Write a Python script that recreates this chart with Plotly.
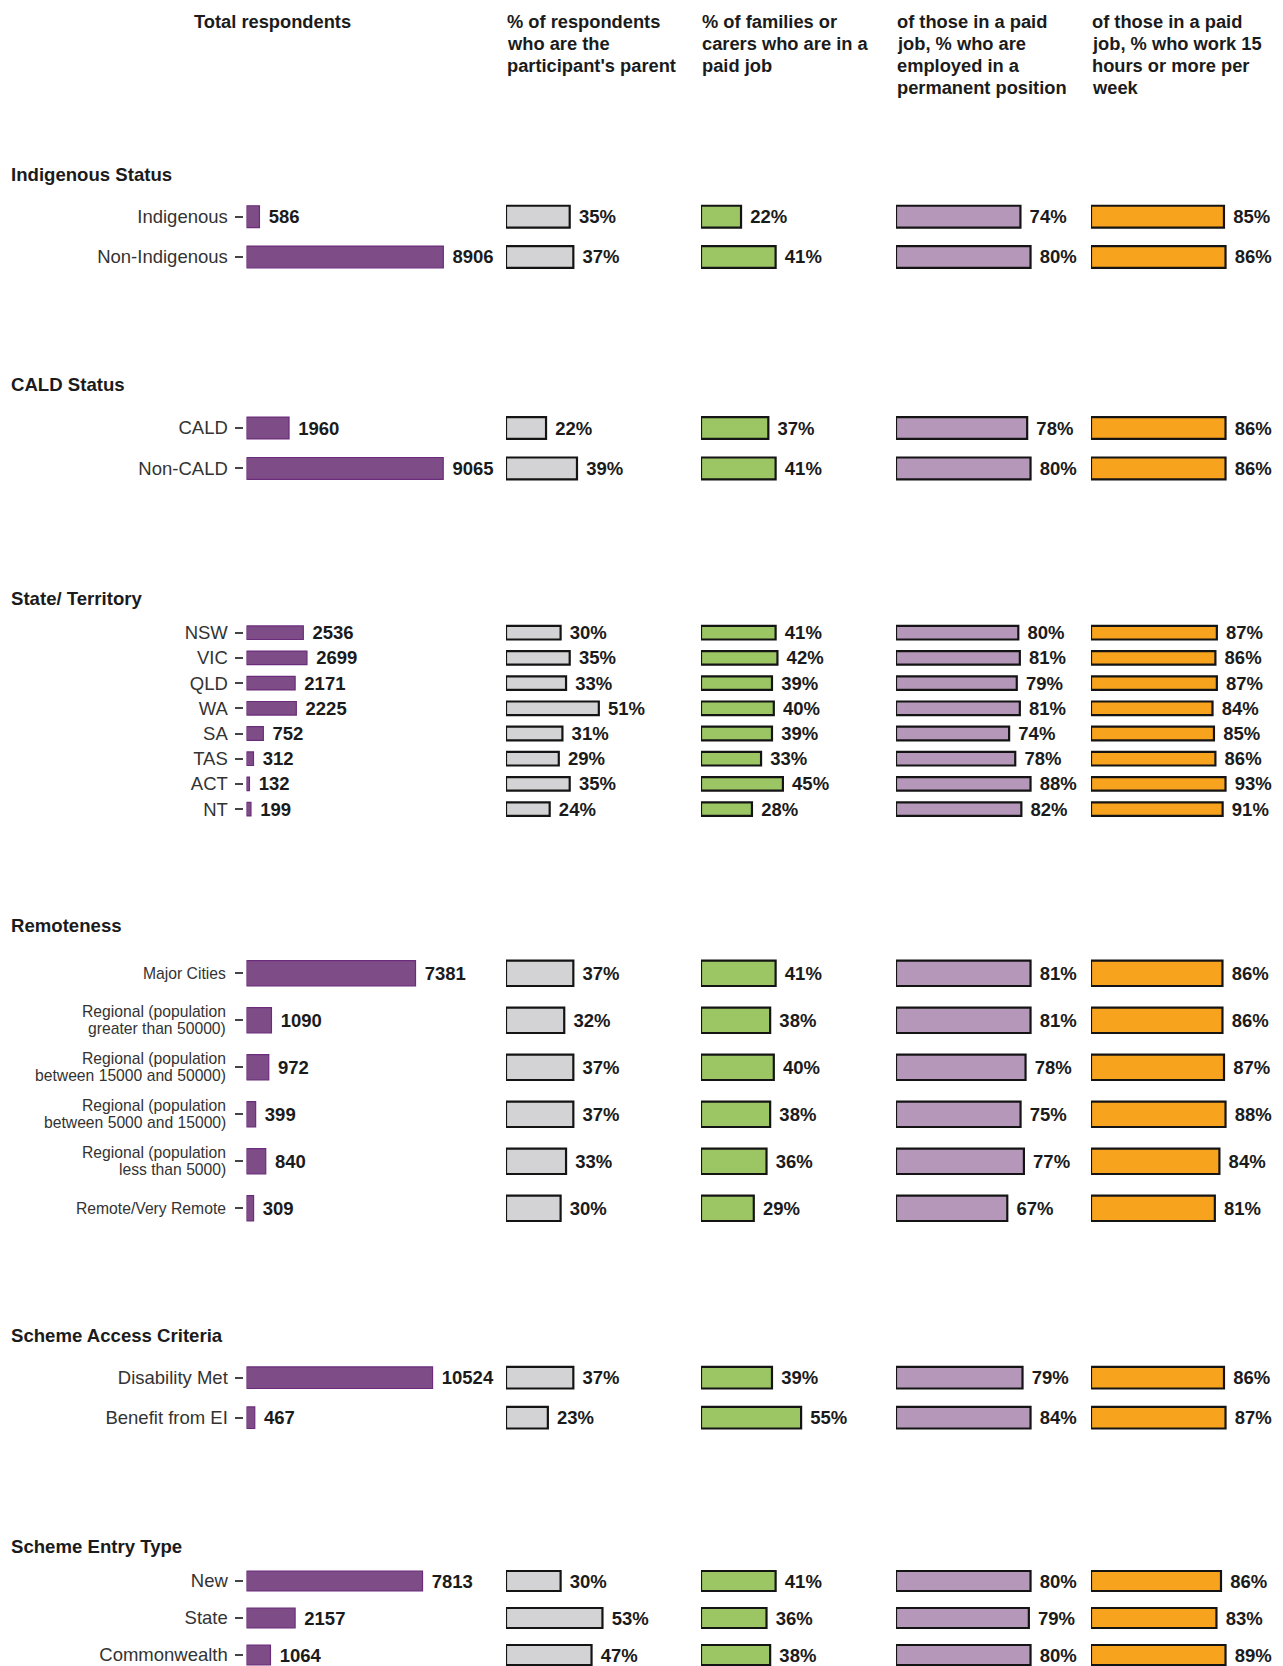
import plotly.graph_objects as go

W, H = 1283, 1666

# ---------------- data ----------------
section_titles = ["Indigenous Status", "CALD Status", "State/ Territory",
                  "Remoteness", "Scheme Access Criteria", "Scheme Entry Type"]

indig_cats = ["Indigenous", "Non-Indigenous"]
cald_cats = ["CALD", "Non-CALD"]
state_cats = ["NSW", "VIC", "QLD", "WA", "SA", "TAS", "ACT", "NT"]
remote_cats = ["Major Cities",
               "Regional (population<br>greater than 50000)",
               "Regional (population<br>between 15000 and 50000)",
               "Regional (population<br>between 5000 and 15000)",
               "Regional (population<br>less than 5000)",
               "Remote/Very Remote"]
access_cats = ["Disability Met", "Benefit from EI"]
entry_cats = ["New", "State", "Commonwealth"]
categories = [indig_cats, cald_cats, state_cats, remote_cats, access_cats, entry_cats]

total_respondents = [[586, 8906], [1960, 9065],
                     [2536, 2699, 2171, 2225, 752, 312, 132, 199],
                     [7381, 1090, 972, 399, 840, 309],
                     [10524, 467], [7813, 2157, 1064]]
pct_parent = [[35, 37], [22, 39], [30, 35, 33, 51, 31, 29, 35, 24],
              [37, 32, 37, 37, 33, 30], [37, 23], [30, 53, 47]]
pct_paid_job = [[22, 41], [37, 41], [41, 42, 39, 40, 39, 33, 45, 28],
                [41, 38, 40, 38, 36, 29], [39, 55], [41, 36, 38]]
pct_permanent = [[74, 80], [78, 80], [80, 81, 79, 81, 74, 78, 88, 82],
                 [81, 81, 78, 75, 77, 67], [79, 84], [80, 79, 80]]
pct_15_hours = [[85, 86], [86, 86], [87, 86, 87, 84, 85, 86, 93, 91],
                [86, 86, 87, 88, 84, 81], [86, 87], [86, 83, 89]]

column_headers = [
    ["Total respondents"],
    ["% of respondents", "who are the", "participant's parent"],
    ["% of families or", "carers who are in a", "paid job"],
    ["of those in a paid", "job, % who are", "employed in a", "permanent position"],
    ["of those in a paid", "job, % who work 15", "hours or more per", "week"],
]

# ---------------- style / layout constants ----------------
fill_colors = ["#7E4C87", "#D3D3D5", "#9BC663", "#B598B9", "#F8A31D"]
line_colors = ["#6B2C7B", "#141414", "#141414", "#141414", "#141414"]
line_widths = [1.2, 2.2, 2.2, 2.2, 2.2]

sec_top = [196.5, 407.8, 620.1, 949.8, 1357.7, 1562.5]
sec_step = [40.3, 40.4, 25.2, 47.0, 40.0, 37.0]
sec_title_y = [175.0, 384.5, 598.3, 925.0, 1335.0, 1546.7]
total_px_per_unit = [0.0221, 0.0217, 0.0224, 0.0229, 0.01768, 0.02253]
col_dom = [(246.5, 496), (506, 686), (701, 881), (896, 1076), (1091, 1271)]
header_x = [272.5, 505, 700, 895, 1090]
PCT_PX = 1.82          # px per percentage point (gray / green columns)
MAX_FILL = 1.338       # range factor for the max-scaled columns

LABEL_FONT = "Liberation Sans, Arial, sans-serif"
VALUE_FONT = "Liberation Sans, Arial, sans-serif"
HEAD_FONT = "Liberation Sans, Arial, sans-serif"


def fx(x):
    return x / W


def fy(y):
    return 1 - y / H


fig = go.Figure()
layout = {}
annotations = []

n = 0
for i, cats in enumerate(categories):
    nc = len(cats)
    top = sec_top[i]
    bottom = min(top + nc * sec_step[i], H)
    span = (bottom - top) / sec_step[i]
    series = [total_respondents[i], pct_parent[i], pct_paid_job[i],
              pct_permanent[i], pct_15_hours[i]]
    for j in range(5):
        n += 1
        vals = series[j]
        xname = "x" if n == 1 else f"x{n}"
        yname = "y" if n == 1 else f"y{n}"
        xkey = "xaxis" if n == 1 else f"xaxis{n}"
        ykey = "yaxis" if n == 1 else f"yaxis{n}"
        d0, d1 = col_dom[j]
        if j == 0:
            xr = [0, (d1 - d0) / total_px_per_unit[i]]
            texts = [f"\u2004{v}" for v in vals]
        elif j in (1, 2):
            xr = [0, (d1 - d0) / PCT_PX]
            texts = [f"\u2004{v}%" for v in vals]
        else:
            xr = [0, max(vals) * MAX_FILL]
            texts = [f"\u2004{v}%" for v in vals]

        fig.add_trace(go.Bar(
            x=vals, y=cats, orientation="h", xaxis=xname, yaxis=yname,
            width=0.54,
            marker=dict(color=fill_colors[j],
                        line=dict(color=line_colors[j], width=line_widths[j])),
            text=texts, textposition="outside", cliponaxis=False,
            constraintext="none",
            textfont=dict(family=VALUE_FONT, size=18.5, color="#1b1b1b",
                          weight="bold"),
            hoverinfo="skip", showlegend=False))

        layout[xkey] = dict(domain=[fx(d0), fx(d1)], range=xr, visible=False,
                            anchor=yname, fixedrange=True)
        yax = dict(domain=[fy(bottom), fy(top)], type="category",
                   categoryorder="array", categoryarray=cats,
                   range=[-0.5 + span, -0.5], showgrid=False, zeroline=False,
                   fixedrange=True)
        if j == 0:
            yax.update(anchor="free", position=fx(242.5), visible=True,
                       ticks="outside", ticklen=8, tickwidth=1.5,
                       tickcolor="#444444", showline=False,
                       showticklabels=(i != 3), ticklabelstandoff=3,
                       tickfont=dict(family=LABEL_FONT, size=18.5,
                                     color="#333333"))
        else:
            yax.update(anchor=xname, visible=False)
        layout[ykey] = yax

        # multi-line remoteness labels drawn with tight line spacing
        if j == 0 and i == 3:
            for c in cats:
                lines = c.split("<br>")
                k = len(lines)
                for li, line in enumerate(lines):
                    shift = ((k - 1) / 2 - li) * 17.3
                    annotations.append(dict(
                        x=fx(228), xref="paper", xanchor="right",
                        y=c, yref=yname, yanchor="middle", yshift=shift,
                        text=line, showarrow=False,
                        font=dict(family=LABEL_FONT, size=15.7, color="#333333")))

# section titles
for t, ty in zip(section_titles, sec_title_y):
    annotations.append(dict(x=fx(9), y=fy(ty), xref="paper", yref="paper",
                            xanchor="left", yanchor="middle", text=t,
                            showarrow=False,
                            font=dict(family=HEAD_FONT, size=18.6,
                                      color="#1b1b1b", weight="bold")))

# column headers
for j, lines in enumerate(column_headers):
    for li, line in enumerate(lines):
        annotations.append(dict(x=fx(header_x[j]), y=fy(21.7 + 21.9 * li),
                                xref="paper", yref="paper",
                                xanchor="center" if j == 0 else "left",
                                yanchor="middle", text=line, showarrow=False,
                                font=dict(family=HEAD_FONT, size=18.3,
                                          color="#1b1b1b", weight="bold")))

fig.update_layout(width=W, height=H, margin=dict(l=0, r=0, t=0, b=0),
                  paper_bgcolor="white", plot_bgcolor="white",
                  annotations=annotations, **layout)

fig.write_html("out.html", config={"displayModeBar": False},
               post_script="document.body.style.margin='0';"
                           "document.body.style.overflow='hidden';")
